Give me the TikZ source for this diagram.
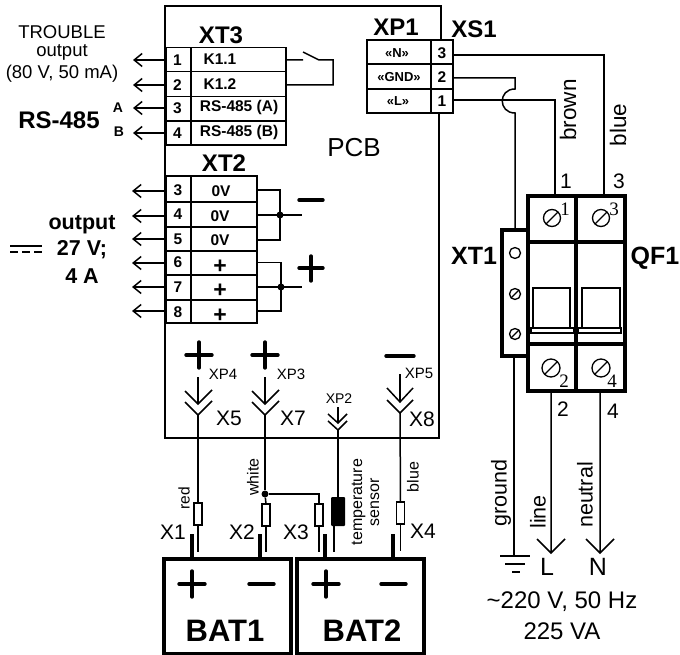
\documentclass[tikz,border=0pt]{standalone}
\usepackage{fontspec}
\setmainfont{Liberation Sans}
\usetikzlibrary{arrows.meta}
\newcommand{\fs}[1]{\fontsize{#1}{#1}\selectfont}
\tikzset{
 x=1pt,y=-1pt,
 wire/.style={line width=1.5pt},
 thin box/.style={line width=1.4pt},
 heavy/.style={line width=3.2pt},
 symb/.style={line width=3.4pt,line cap=round},
 open arrow/.style={wire,-{Straight Barb[length=8pt,width=13pt,line width=1.5pt]}},
 chev/.style={line width=1.5pt},
 lbl/.style={inner sep=0pt,outer sep=0pt,align=center},
 num/.style={lbl,font=\bfseries\fs{15.5}},
 cell/.style={lbl,font=\bfseries\fs{15.5}},
 head/.style={lbl,font=\bfseries\fs{24}},
 plain/.style={lbl,font=\fs{18.5}},
 term/.style={lbl,font=\fs{21}},
 xp/.style={lbl,font=\fs{15}},
 rot/.style={lbl,font=\fs{21.5},rotate=90},
 rots/.style={lbl,font=\fs{16},rotate=90},
 res/.style={draw,line width=1.3pt,fill=white,minimum width=8pt,minimum height=22pt,inner sep=0pt,outer sep=0pt},
 dot/.style={circle,fill=black,inner sep=0pt,minimum size=7pt},
 screw/.style={line width=1.3pt},
}
\begin{document}
\begin{tikzpicture}
\useasboundingbox (0,0) rectangle (680,655);
% PCB outline
\draw[line width=1.6pt] (441,40) -- (441,6) -- (165,6) -- (165,438) -- (439,438) -- (439,113);
\node[lbl,font=\fs{26}] (pcb) at (354,148) {PCB};
% XT3
\node[head] (xt3) at (221,35) {XT3};
\draw[thin box] (166,47.5) rectangle (286,145);
\draw[thin box] (191,47.5) -- (191,145);
\foreach \y in {71.5,96.5,121}{\draw[thin box] (166,\y) -- (286,\y);}
\foreach \n/\t/\y/\x in {1/K1.1/60/220,2/K1.2/85/220,3/RS-485 (A)/108/239,4/RS-485 (B)/133/239}{
 \node[num] (xt3n\n) at (177.5,\y) {\n};
 \node[cell] (xt3c\n) at (\x,\y-1) {\t};
 \coordinate (xt3t\n) at (133,\y);
 \draw[open arrow] (165,\y) -- (xt3t\n);
}
% contact
\coordinate (k1) at (286,60); \coordinate (k2) at (286,85);
\draw[wire] (k1) -- (303,60) (303,52) -- (319,60) -- (333,60) -- (333,85) -- (k2);
% left text
\node[plain] (trouble) at (62,32) {TROUBLE};
\node[plain] (toutput) at (62,52) {output};
\node[plain] (tvolts) at (62,74) {(80 V, 50 mA)};
\node[head] (rs) at (59,120) {RS-485};
\node[lbl,font=\bfseries\fs{14}] (la) at (118,108) {A};
\node[lbl,font=\bfseries\fs{14}] (lb) at (119,132) {B};
% XT2
\node[head] (xt2) at (224,163) {XT2};
\draw[thin box] (166,176) rectangle (257,323);
\draw[thin box] (191,176) -- (191,323);
\foreach \y in {202,227,251,275,300}{\draw[thin box] (166,\y) -- (257,\y);}
\foreach \n/\y in {3/190,4/214,5/239,6/262,7/287,8/312}{
 \node[num] (xt2n\n) at (178,\y) {\n};
}
\foreach \n/\y in {3/191,4/216,5/239,6/263,7/287,8/311}{
 \coordinate (xt2t\n) at (132,\y);
 \draw[open arrow] (165,\y) -- (xt2t\n);
}
\node[cell] (z1) at (221,191) {0V};
\node[cell] (z2) at (220,216) {0V};
\node[cell] (z3) at (220,240) {0V};
\node[lbl,font=\bfseries\fs{23}] (p1) at (220,266.5) {+};
\node[lbl,font=\bfseries\fs{23}] (p2) at (220,291) {+};
\node[lbl,font=\bfseries\fs{23}] (p3) at (220,315.5) {+};
\draw[wire] (257,190) -- (280,190) -- (280,240) -- (257,240);
\draw[wire] (257,215) -- (302,215);
\node[dot] (d1) at (280,215) {};
\draw[wire] (257,262.5) -- (281,262.5) -- (281,311) -- (257,311);
\draw[wire] (257,287) -- (302,287);
\node[dot] (d2) at (281,287) {};
\draw[symb] (299,200) -- (323,200);
\draw[symb] (299,268) -- (323,268) (311,256) -- (311,281);
% output
\node[lbl,font=\bfseries\fs{21.5}] (o1) at (82,225) {output};
\node[lbl,font=\bfseries\fs{21.5}] (o2) at (82,250) {27 V;};
\node[lbl,font=\bfseries\fs{21.5}] (o3) at (82,276) {4 A};
\draw[line width=1.8pt] (10,246) -- (42,246);
\draw[line width=1.8pt,dash pattern=on 8pt off 4pt] (10,252) -- (42,252);
% XP1
\node[head] (xp1) at (396,27) {XP1};
\node[head] (xs1) at (474,29) {XS1};
\draw[thin box] (367,40) rectangle (453,113);
\draw[thin box] (431,40) -- (431,113) (367,64) -- (453,64) (367,89) -- (453,89);
\node[cell,font=\bfseries\fs{13}] (n) at (397,53) {«N»};
\node[cell,font=\bfseries\fs{13}] (g) at (399,77) {«GND»};
\node[cell,font=\bfseries\fs{13}] (l) at (398,101) {«L»};
\node[num] (xp3) at (442,53) {3};
\node[num] (xp2n) at (442,77) {2};
\node[num] (xp1n) at (442,101) {1};
% mains wires
\draw[wire] (453,55) -- (604,55) -- (604,196);
\draw[wire] (453,100) -- (555,100) -- (555,196);
\draw[wire] (453,78) -- (515,78) -- (515,89) .. controls (498,89) and (498,113) .. (515,113) -- (515,230);
\node[rot,font=\fs{22.5}] (brown) at (568,110) {brown};
\node[rot,font=\fs{22.5}] (blue) at (618,125) {blue};
\node[term] (t1) at (566,181) {1};
\node[term] (t3) at (619,181) {3};
% QF1
\draw[line width=1.2pt,fill=white] (533,288) rectangle (570,328);
\draw[line width=1.2pt,fill=white] (582,288) rectangle (620,328);
\draw[line width=1.2pt,fill=white] (531,328) rectangle (574,333);
\draw[line width=1.2pt,fill=white] (578,328) rectangle (621,333);
\draw[heavy] (528,196) rectangle (625,391);
\draw[heavy] (576,196) -- (576,391) (528,242) -- (625,242) (528,344) -- (625,344);
\draw[heavy] (528,230) -- (502,230) -- (502,356) -- (528,356);
\foreach \x/\y/\r in {552/218/8.5,601/218/8.5,551/368/9,601/368/9}{
 \draw[screw] (\x,\y) circle[radius=\r];
 \draw[screw] (\x-0.7*\r,\y+0.7*\r) -- (\x+0.7*\r,\y-0.7*\r);
}
\foreach \t/\x/\y in {1/565/209,3/614/209,2/564/381,4/612/381}{
 \node[lbl,font=\fontspec{Liberation Serif}\fs{19}] (s\t) at (\x,\y) {\t};
}
\draw[screw] (515,253) circle[radius=5.5];
\foreach \y in {294,334}{
 \draw[screw] (515,\y) circle[radius=5.5];
 \draw[screw] (511,\y+4) -- (519,\y-4);
}
\node[lbl,font=\bfseries\fs{25}] (xt1) at (474,256) {XT1};
\node[lbl,font=\bfseries\fs{25}] (qf1) at (655,258) {QF1};
% lower mains
\coordinate (lt) at (551,553); \coordinate (nt) at (600,553);
\draw[wire] (514,356) -- (514,556);
\draw[wire] (551,391) -- (lt) (537,539) -- (lt) -- (565,539);
\draw[wire] (600,391) -- (nt) (586,539) -- (nt) -- (614,539);
\draw[wire] (500,556) -- (530,556) (505,564) -- (525,564) (512,572) -- (520,572);
\node[term] (t2) at (563,409) {2};
\node[term] (t4) at (613,411) {4};
\node[rot] (ground) at (501,493) {ground};
\node[rot] (line) at (538,512) {line};
\node[rot] (neutral) at (585,495) {neutral};
\node[lbl,font=\fs{25}] (ll) at (547,567) {L};
\node[lbl,font=\fs{25}] (nn) at (598,567) {N};
\node[lbl,font=\fs{24}] (v1) at (562,602) {\textasciitilde220 V, 50 Hz};
\node[lbl,font=\fs{24}] (v2) at (562,631) {225 VA};
% X connectors in PCB
\draw[symb] (186,355) -- (212,355) (199,342) -- (199,368);
\draw[symb] (252,355) -- (278,355) (265,342) -- (265,368);
\draw[symb] (386,356) -- (414,356);
\foreach \x/\t in {198/377,265/377}{
 \draw[chev] (\x,\t) -- (\x,404);
 \draw[chev] (\x-13,391) -- (\x,404) -- (\x+14,390);
 \draw[chev] (\x-13,402) -- (\x,415) -- (\x+14,401);
}
\draw[chev] (400,374) -- (400,402);
\draw[chev] (387,388) -- (400,402) -- (413,388);
\draw[chev] (387,400) -- (400,413) -- (413,400);
\draw[chev] (338,407) -- (338,423);
\draw[chev] (328,414) -- (338,423) -- (347,414);
\draw[chev] (328,421) -- (338,430) -- (347,421);
\node[xp] (xp4) at (223,374) {XP4};
\node[xp] (xp3l) at (291,374) {XP3};
\node[xp] (xp5) at (419,373) {XP5};
\node[xp,font=\fs{14}] (xp2) at (339,399) {XP2};
\node[term] (x5) at (229,418) {X5};
\node[term] (x7) at (293,418) {X7};
\node[term] (x8) at (422,419) {X8};
% resistors & wires
\node[res] (r1) at (198,514) {};
\node[res] (r2) at (266,515) {};
\node[res] (r3) at (319,515) {};
\node[res] (r4) at (400.5,513) {};
\node[dot] (d3) at (265,494) {};
\node[rectangle,fill=black,rounded corners=1pt,minimum width=14pt,minimum height=29pt,inner sep=0pt,outer sep=0pt] (sens) at (338,511.5) {};
\draw[wire] (198,415) -- (r1.north);
\draw[wire] (265,415) -- (d3);
\draw[wire] (d3) -- (266,504);
\draw[wire] (400,413) -- (r4.north);
\draw[wire] (338,430) -- (sens.north);
\draw[wire] (d3) -- (319,494) -- (r3.north);
\draw[wire] (r1.south) -- (198,552);
\draw[wire] (r2.south) -- (266,552);
\draw[wire] (r3.south) -- (319,552);
\draw[wire] (r4.south) -- (400.5,551);
\draw[wire] (334,526) -- (334,552);
% batteries
\draw[heavy] (164,559) rectangle (291,653.5);
\draw[heavy] (297,559) rectangle (424,653.5);
\draw[heavy] (192,534) -- (192,559);
\draw[heavy] (260,534) -- (260,559);
\draw[heavy] (325,534) -- (325,559);
\draw[heavy] (393,534) -- (393,559);
\draw[symb] (179,584) -- (205,584) (192,571) -- (192,597);
\draw[symb] (249,584) -- (274,584);
\draw[symb] (313,584) -- (339,584) (326,571) -- (326,597);
\draw[symb] (381,584) -- (406,584);
\node[lbl,font=\bfseries\fs{31}] (bat1) at (225,631) {BAT1};
\node[lbl,font=\bfseries\fs{31}] (bat2) at (362,631) {BAT2};
\node[rots,font=\fs{15.5}] (red) at (184,498) {red};
\node[rots] (white) at (253,477) {white};
\node[rots] (blue2) at (413,477) {blue};
\node[lbl,font=\fs{16},rotate=90] (temp) at (365.5,502) {temperature\\[1pt]sensor};
\node[term] (x1) at (173,532) {X1};
\node[term] (x2) at (242,532) {X2};
\node[term] (x3) at (296,532) {X3};
\node[term] (x4) at (423,531) {X4};
\end{tikzpicture}
\end{document}
